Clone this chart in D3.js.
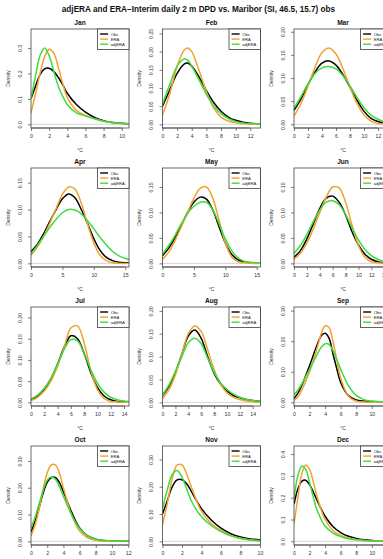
<!DOCTYPE html>
<html><head><meta charset="utf-8">
<script src="https://cdn.jsdelivr.net/npm/d3@7"></script>
<style>
body{margin:0;background:#fff;overflow:hidden}
text{font-family:"Liberation Sans",Arial,Helvetica,sans-serif}
</style>
</head><body>
<svg id="chart" width="383" height="559"></svg>
<script>
const title = "adjERA and ERA\u2212Interim daily 2 m DPD vs. Maribor (SI, 46.5, 15.7) obs";
const months = ["Jan","Feb","Mar","Apr","May","Jun","Jul","Aug","Sep","Oct","Nov","Dec"];
const seriesNames = ["Obs","ERA","adjERA"];
const seriesColors = ["#000000","#F2A22E","#3EDC3E"];

const xLimits = [10.8, 13.4, 14, 15.6, 15.6, 15.2, 14.75, 15.2, 12.6, 12.1, 10.05, 12.6];
const xTicks = [
  [0,2,4,6,8,10],[0,2,4,6,8,10,12],[0,2,4,6,8,10,12],
  [0,5,10,15],[0,5,10,15],[0,2,4,6,8,10,12,14],
  [0,2,4,6,8,10,12,14],[0,2,4,6,8,10,12,14],[0,2,4,6,8,10,12],
  [0,2,4,6,8,10,12],[0,2,4,6,8,10],[0,2,4,6,8,10,12]
];
const yTicks = [
  [0,0.1,0.2,0.3],[0,0.05,0.1,0.15,0.2,0.25],[0,0.05,0.1,0.15,0.2],
  [0,0.05,0.1,0.15],[0,0.05,0.1,0.15],[0,0.05,0.1,0.15],
  [0,0.05,0.1,0.15,0.2],[0,0.05,0.1,0.15,0.2],[0,0.1,0.2,0.3],
  [0,0.1,0.2,0.3],[0,0.1,0.2,0.3],[0,0.1,0.2,0.3,0.4]
];
const yDigits = [1,2,2,2,2,2,2,2,2,2,2,1];

const xGrid = [
  [0,0.5,1,1.5,2,2.5,3,3.5,4,5,6,7,8,9,10,10.8],
  [0,1,2,3,3.5,4,5,6,7,8,9,10,11,12,13.4],
  [0,1,2,3,4,5,6,7,8,9,10,11,12,13,14],
  [0,1,2,3,4,5,6,7,8,9,10,11,12,13,14,15.6],
  [0,1,2,3,4,5,6,7,8,9,10,11,12,13,14,15.6],
  [0,1,2,3,4,5,6,7,8,9,10,11,12,13,14,15.2],
  [0,1,2,3,4,5,6,7,8,9,10,11,12,13,14,14.75],
  [0,1,2,3,4,5,6,7,8,9,10,11,12,13,14,15.2],
  [0,0.5,1,2,3,3.5,4,4.5,5,5.5,6,7,8,9,10,11,12.6],
  [0,0.5,1,1.5,2,2.5,3,3.5,4,5,6,7,8,9,10,12.1],
  [0,0.5,1,1.5,2,2.5,3,4,5,6,7,8,9,10.05],
  [0,0.5,1,1.5,2,2.5,3,4,5,6,7,8,9,10,11,12.6]
];

const obsDensity = [
  [0.100,0.150,0.195,0.218,0.220,0.208,0.185,0.155,0.122,0.078,0.048,0.027,0.014,0.007,0.004,0.002],
  [0.050,0.095,0.140,0.166,0.168,0.160,0.130,0.093,0.060,0.036,0.020,0.011,0.006,0.003,0.001],
  [0.030,0.055,0.085,0.113,0.132,0.137,0.128,0.107,0.080,0.052,0.028,0.013,0.006,0.002,0.001],
  [0.022,0.035,0.055,0.078,0.100,0.120,0.129,0.122,0.100,0.074,0.046,0.024,0.011,0.005,0.002,0.001],
  [0.015,0.030,0.050,0.075,0.100,0.120,0.130,0.126,0.105,0.072,0.040,0.018,0.007,0.003,0.001,0.000],
  [0.012,0.025,0.048,0.078,0.108,0.128,0.132,0.120,0.095,0.062,0.036,0.018,0.008,0.003,0.001,0.000],
  [0.006,0.014,0.030,0.055,0.090,0.130,0.157,0.150,0.115,0.070,0.035,0.015,0.006,0.002,0.001,0.000],
  [0.015,0.035,0.065,0.105,0.145,0.158,0.140,0.100,0.064,0.040,0.025,0.015,0.010,0.006,0.004,0.002],
  [0.012,0.030,0.055,0.120,0.190,0.218,0.226,0.210,0.160,0.110,0.065,0.022,0.008,0.004,0.002,0.001,0.000],
  [0.035,0.075,0.125,0.180,0.220,0.238,0.238,0.220,0.185,0.110,0.050,0.020,0.008,0.003,0.001,0.000],
  [0.100,0.150,0.200,0.225,0.226,0.210,0.180,0.120,0.078,0.048,0.028,0.016,0.009,0.005],
  [0.170,0.240,0.275,0.280,0.260,0.225,0.185,0.115,0.068,0.040,0.023,0.013,0.007,0.004,0.002,0.001]
];
const eraDensity = [
  [0.045,0.120,0.200,0.265,0.295,0.280,0.225,0.160,0.105,0.055,0.035,0.022,0.012,0.006,0.003,0.002],
  [0.025,0.085,0.160,0.205,0.210,0.200,0.148,0.090,0.045,0.020,0.009,0.004,0.002,0.001,0.000],
  [0.018,0.045,0.083,0.123,0.155,0.165,0.152,0.120,0.080,0.045,0.020,0.007,0.002,0.001,0.000],
  [0.015,0.030,0.050,0.075,0.102,0.128,0.142,0.138,0.112,0.073,0.038,0.015,0.005,0.001,0.000,0.000],
  [0.008,0.022,0.045,0.072,0.100,0.128,0.147,0.150,0.128,0.085,0.040,0.013,0.003,0.001,0.000,0.000],
  [0.008,0.020,0.040,0.068,0.100,0.130,0.150,0.148,0.120,0.075,0.035,0.012,0.003,0.001,0.000,0.000],
  [0.004,0.012,0.027,0.050,0.085,0.130,0.175,0.180,0.140,0.075,0.030,0.009,0.002,0.001,0.000,0.000],
  [0.008,0.028,0.060,0.105,0.150,0.167,0.155,0.115,0.072,0.040,0.021,0.011,0.006,0.003,0.001,0.000],
  [0.006,0.018,0.040,0.100,0.180,0.225,0.250,0.245,0.200,0.140,0.080,0.020,0.004,0.001,0.000,0.000,0.000],
  [0.020,0.060,0.120,0.195,0.255,0.285,0.285,0.255,0.200,0.100,0.038,0.013,0.004,0.001,0.000,0.000],
  [0.060,0.140,0.230,0.280,0.280,0.245,0.195,0.110,0.065,0.040,0.022,0.011,0.005,0.002],
  [0.080,0.200,0.310,0.350,0.330,0.270,0.200,0.100,0.050,0.027,0.015,0.008,0.004,0.002,0.001,0.000]
];
const adjDensity = [
  [0.100,0.190,0.270,0.300,0.270,0.210,0.150,0.110,0.078,0.045,0.033,0.022,0.012,0.006,0.003,0.002],
  [0.055,0.110,0.160,0.180,0.175,0.160,0.122,0.083,0.050,0.029,0.016,0.008,0.004,0.002,0.001],
  [0.035,0.060,0.088,0.110,0.122,0.125,0.120,0.105,0.083,0.058,0.036,0.020,0.011,0.005,0.002],
  [0.018,0.033,0.050,0.067,0.082,0.094,0.100,0.099,0.092,0.079,0.064,0.048,0.034,0.022,0.014,0.007],
  [0.018,0.035,0.055,0.078,0.098,0.112,0.120,0.120,0.105,0.078,0.048,0.025,0.011,0.004,0.002,0.001],
  [0.020,0.035,0.057,0.082,0.105,0.120,0.123,0.115,0.096,0.070,0.046,0.027,0.015,0.008,0.004,0.002],
  [0.008,0.017,0.033,0.057,0.090,0.125,0.148,0.145,0.115,0.077,0.045,0.024,0.012,0.006,0.003,0.002],
  [0.016,0.038,0.068,0.100,0.130,0.140,0.128,0.097,0.066,0.043,0.028,0.018,0.011,0.006,0.004,0.002],
  [0.025,0.040,0.060,0.108,0.158,0.180,0.192,0.190,0.170,0.140,0.108,0.055,0.023,0.009,0.004,0.002,0.001],
  [0.050,0.090,0.140,0.190,0.228,0.240,0.232,0.205,0.168,0.100,0.048,0.020,0.008,0.003,0.001,0.000],
  [0.120,0.190,0.245,0.260,0.235,0.190,0.145,0.090,0.058,0.036,0.020,0.010,0.005,0.002],
  [0.200,0.300,0.345,0.330,0.270,0.200,0.140,0.070,0.038,0.022,0.012,0.007,0.004,0.002,0.001,0.000]
];

const svg = d3.select("#chart");
svg.append("rect").attr("width",383).attr("height",559).attr("fill","#fff");

svg.append("text").attr("x",198.5).attr("y",12).attr("text-anchor","middle")
  .attr("font-weight","bold").attr("font-size",8.2).attr("fill","#111").text(title);

const boxW = 98, boxH = 99;
months.forEach((m, i) => {
  const col = i % 3, row = Math.floor(i / 3);
  const left = 31 + col * 131.5, top = 29 + row * 139;
  const all = [obsDensity[i], eraDensity[i], adjDensity[i]];
  const ymax = 1.2 * d3.max(all.flat());
  const x = d3.scaleLinear().domain([0, xLimits[i]]).range([left, left + boxW]);
  const y = d3.scaleLinear().domain([-0.04 * ymax, 1.04 * ymax]).range([top + boxH, top]);
  const g = svg.append("g");

  const cid = "clip" + i;
  g.append("clipPath").attr("id", cid).append("rect")
    .attr("x", left).attr("y", top).attr("width", boxW).attr("height", boxH);

  // zero line
  g.append("line").attr("x1", left).attr("x2", left + boxW)
    .attr("y1", y(0)).attr("y2", y(0)).attr("stroke", "#c8c8c8").attr("stroke-width", 0.8);

  const line = d3.line().x(d => x(d[0])).y(d => y(d[1])).curve(d3.curveCatmullRom.alpha(0.5));
  all.forEach((vals, s) => {
    g.append("path").datum(xGrid[i].map((xv, k) => [xv, vals[k]]))
      .attr("d", line).attr("fill", "none").attr("stroke", seriesColors[s])
      .attr("stroke-width", 1.5).attr("clip-path", `url(#${cid})`)
      .attr("stroke-linejoin","round");
  });

  // box
  g.append("rect").attr("x", left).attr("y", top).attr("width", boxW).attr("height", boxH)
    .attr("fill", "none").attr("stroke", "#444").attr("stroke-width", 0.8);

  // x axis
  const xa = g.append("g").attr("transform", `translate(0,${top + boxH})`)
    .call(d3.axisBottom(x).tickValues(xTicks[i]).tickSize(3).tickSizeOuter(0).tickFormat(d3.format("d")));
  xa.select(".domain").remove();
  xa.selectAll("line").attr("stroke", "#444").attr("stroke-width", 0.7);
  xa.selectAll("text").attr("font-size", 5.2).attr("fill", "#333").attr("y", 6.5)
    .attr("font-family", "Liberation Sans, Arial, sans-serif");
  g.append("line").attr("x1", x(xTicks[i][0])).attr("x2", x(xTicks[i][xTicks[i].length - 1]))
    .attr("y1", top + boxH).attr("y2", top + boxH).attr("stroke", "#444").attr("stroke-width", 0.7);

  // y axis
  const ya = g.append("g").attr("transform", `translate(${left},0)`)
    .call(d3.axisLeft(y).tickValues(yTicks[i]).tickSize(3).tickSizeOuter(0)
      .tickFormat(d3.format("." + yDigits[i] + "f")));
  ya.select(".domain").remove();
  ya.selectAll("line").attr("stroke", "#444").attr("stroke-width", 0.7);
  ya.selectAll("text").attr("font-size", 5.2).attr("fill", "#333")
    .attr("font-family", "Liberation Sans, Arial, sans-serif")
    .attr("transform", "rotate(-90)").attr("text-anchor", "middle")
    .attr("x", 0).attr("y", -9.5).attr("dy", 0);

  // titles
  g.append("text").attr("x", left + boxW / 2).attr("y", top - 4).attr("text-anchor", "middle")
    .attr("font-weight", "bold").attr("font-size", 6.6).attr("fill", "#111").text(m);
  g.append("text").attr("x", left + boxW / 2).attr("y", top + boxH + 24).attr("text-anchor", "middle")
    .attr("font-size", 5).attr("fill", "#333").text("\u00b0C");
  g.append("text").attr("transform", `translate(${left - 21.5},${top + boxH / 2}) rotate(-90)`)
    .attr("text-anchor", "middle").attr("font-size", 5).attr("fill", "#333").text("Density");

  // legend
  const lw = 31.5, lh = 20.5, lx = left + boxW - lw, ly = top;
  const lg = g.append("g");
  lg.append("rect").attr("x", lx).attr("y", ly).attr("width", lw).attr("height", lh)
    .attr("fill", "#fff").attr("stroke", "#222").attr("stroke-width", 0.7);
  seriesNames.forEach((nm, s) => {
    const yy = ly + 5 + s * 5.1;
    lg.append("line").attr("x1", lx + 2.6).attr("x2", lx + 10.6).attr("y1", yy).attr("y2", yy)
      .attr("stroke", seriesColors[s]).attr("stroke-width", 1.4);
    lg.append("text").attr("x", lx + 13.2).attr("y", yy + 1.5).attr("font-size", 4.2)
      .attr("fill", "#222").text(nm);
  });
});
</script>
</body></html>
